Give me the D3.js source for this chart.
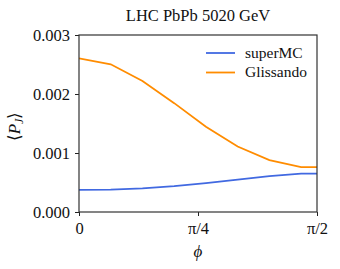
<!DOCTYPE html>
<html>
<head>
<meta charset="utf-8">
<script src="https://cdn.jsdelivr.net/npm/d3@7"></script>
<style>
  body { margin: 0; background: #fff; }
  svg { display: block; }
  svg text { font-family: "Liberation Serif", serif; }
</style>
</head>
<body>
<svg width="340" height="269"></svg>
<script>
// phi grid: k * pi / 15 (the last point lies past pi/2 and is clipped)
const phiSteps = [0, 1, 2, 3, 4, 5, 6, 7, 8];
const superMC = [0.000374, 0.000379, 0.000400, 0.000438, 0.000489, 0.000548, 0.000607, 0.000649, 0.000649];
const glissando = [0.002604, 0.002503, 0.002220, 0.001845, 0.001446, 0.001109, 0.000880, 0.000762, 0.000762];
const yTicks = [0, 0.001, 0.002, 0.003];
const xTicks = [0, Math.PI / 4, Math.PI / 2];
const xTickLabels = ["0", "π/4", "π/2"];

const width = 340;
const height = 269;
const margin = { top: 35, right: 23, bottom: 57, left: 79 };
const font = "'Liberation Serif', serif";

const svg = d3.select("svg");

const xScale = d3.scaleLinear()
  .domain([0, Math.PI / 2])
  .range([margin.left, width - margin.right]);

const yScale = d3.scaleLinear()
  .domain([0, 0.003])
  .range([height - margin.bottom, margin.top]);

svg.append("defs").append("clipPath").attr("id", "plot-clip")
  .append("rect")
  .attr("x", margin.left)
  .attr("y", margin.top)
  .attr("width", width - margin.left - margin.right)
  .attr("height", height - margin.top - margin.bottom);

const series = [
  { name: "superMC", values: superMC, color: "#4169e1" },
  { name: "Glissando", values: glissando, color: "#ff8c00" }
];

const line = d3.line()
  .x((d) => xScale(d.phi))
  .y((d) => yScale(d.v));

series.forEach((s) => {
  const pts = phiSteps.map((k, i) => ({ phi: k * Math.PI / 15, v: s.values[i] }));
  svg.append("path")
    .datum(pts)
    .attr("clip-path", "url(#plot-clip)")
    .attr("fill", "none")
    .attr("stroke", s.color)
    .attr("stroke-width", 1.8)
    .attr("d", line);
});

// axes
const xAxis = d3.axisBottom(xScale)
  .tickValues(xTicks)
  .tickFormat((d, i) => xTickLabels[i])
  .tickSize(4).tickPadding(6);
const gx = svg.append("g")
  .attr("transform", `translate(0, ${height - margin.bottom})`)
  .call(xAxis);

const yAxis = d3.axisLeft(yScale)
  .tickValues(yTicks)
  .tickFormat(d3.format(".3f"))
  .tickSize(4).tickPadding(5);
const gy = svg.append("g")
  .attr("transform", `translate(${margin.left}, 0)`)
  .call(yAxis);

[gx, gy].forEach((g) => {
  g.attr("font-family", font).attr("font-size", 16.5);
  g.select(".domain").remove();
  g.selectAll(".tick line").attr("stroke", "#222").attr("stroke-width", 1);
  g.selectAll(".tick text").attr("fill", "#111");
});
gy.selectAll(".tick text").attr("dy", "0.34em");

// frame
svg.append("rect")
  .attr("x", margin.left)
  .attr("y", margin.top)
  .attr("width", width - margin.left - margin.right)
  .attr("height", height - margin.top - margin.bottom)
  .attr("fill", "none")
  .attr("stroke", "#333")
  .attr("stroke-width", 1.2);

// title
svg.append("text")
  .attr("x", (margin.left + width - margin.right) / 2)
  .attr("y", 21)
  .attr("text-anchor", "middle")
  .attr("font-size", 16.5)
  .attr("fill", "#111")
  .text("LHC PbPb 5020 GeV");

// x label
svg.append("text")
  .attr("x", (margin.left + width - margin.right) / 2)
  .attr("y", 257)
  .attr("text-anchor", "middle")
  .attr("font-size", 17)
  .attr("font-style", "italic")
  .attr("fill", "#111")
  .text("ϕ");

// y label
const yl = svg.append("text")
  .attr("transform", `translate(20, ${(margin.top + height - margin.bottom) / 2 + 3}) rotate(-90)`)
  .attr("text-anchor", "middle")
  .attr("font-size", 17)
  .attr("fill", "#111");
yl.append("tspan").text("⟨");
yl.append("tspan").attr("font-style", "italic").text("P");
yl.append("tspan").attr("font-style", "italic").attr("font-size", 12).attr("dy", 3).text("J");
yl.append("tspan").attr("dy", -3).text("⟩");

// legend
const legend = svg.append("g");
series.forEach((s, i) => {
  const y = 53 + i * 19.5;
  legend.append("line")
    .attr("x1", 206).attr("x2", 235)
    .attr("y1", y).attr("y2", y)
    .attr("stroke", s.color)
    .attr("stroke-width", 1.8);
  legend.append("text")
    .attr("x", 245)
    .attr("y", y + 4.5)
    .attr("font-size", 15.5)
    .attr("fill", "#111")
    .text(s.name);
});
</script>
</body>
</html>
